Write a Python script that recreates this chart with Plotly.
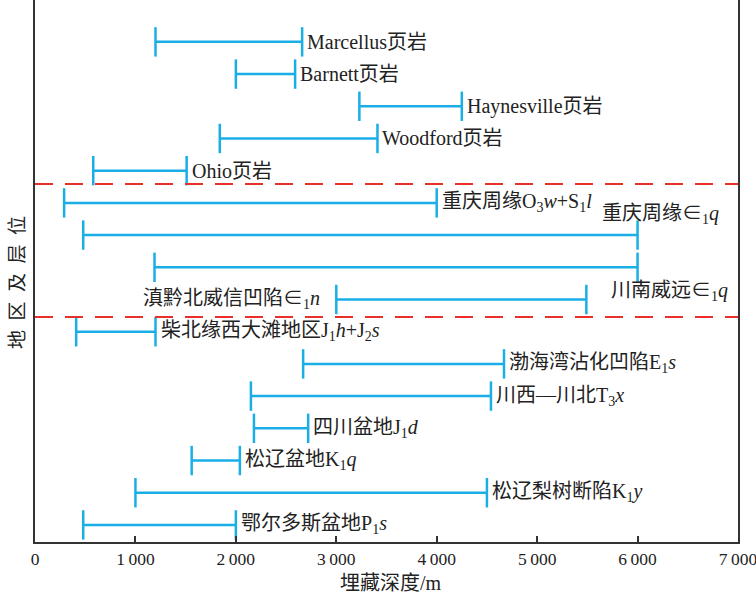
import plotly.graph_objects as go

# ---- data ----
labels = [
    "Marcellus页岩",
    "Barnett页岩",
    "Haynesville页岩",
    "Woodford页岩",
    "Ohio页岩",
    "重庆周缘O<sub>3</sub><i>w</i>+S<sub>1</sub><i>l</i>",
    "重庆周缘∈<sub>1</sub><i>q</i>",
    "川南威远∈<sub>1</sub><i>q</i>",
    "滇黔北威信凹陷∈<sub>1</sub><i>n</i>",
    "柴北缘西大滩地区J<sub>1</sub><i>h</i>+J<sub>2</sub><i>s</i>",
    "渤海湾沾化凹陷E<sub>1</sub><i>s</i>",
    "川西—川北T<sub>3</sub><i>x</i>",
    "四川盆地J<sub>1</sub><i>d</i>",
    "松辽盆地K<sub>1</sub><i>q</i>",
    "松辽梨树断陷K<sub>1</sub><i>y</i>",
    "鄂尔多斯盆地P<sub>1</sub><i>s</i>",
]
depth_min = [1200, 2000, 3230, 1840, 580, 290, 480, 1190, 3000, 410, 2670, 2150, 2180, 1560, 1000, 480]
depth_max = [2660, 2590, 4250, 3410, 1510, 4000, 6000, 6000, 5490, 1200, 4670, 4540, 2720, 2040, 4500, 2000]
tick_vals = [0, 1000, 2000, 3000, 4000, 5000, 6000, 7000]
tick_text = ["0", "1\u2009000", "2\u2009000", "3\u2009000", "4\u2009000",
             "5\u2009000", "6\u2009000", "7\u2009000"]
group_dividers = [4.41, 8.54]
x_title = "埋藏深度/m"
y_title = "地\u2002区\u2002及\u2002层\u2002位"

BLUE = "#1AAEE6"
RED = "#E8302A"
INK = "#222222"
FONT = "Liberation Serif, Noto Sans CJK SC"
y_idx = list(range(len(labels)))

fig = go.Figure()

# range lines
lx, ly = [], []
for i, (a, b) in enumerate(zip(depth_min, depth_max)):
    lx += [a, b, None]
    ly += [i, i, None]
fig.add_trace(go.Scatter(x=lx, y=ly, mode="lines", line=dict(color=BLUE, width=2.5),
                         hoverinfo="skip", showlegend=False))
# end caps
fig.add_trace(go.Scatter(x=depth_min + depth_max, y=y_idx + y_idx, mode="markers",
                         marker=dict(symbol="line-ns", size=21,
                                     line=dict(color=BLUE, width=2.5)),
                         hoverinfo="skip", showlegend=False))

# labels
special = {
    6: dict(x=6830, y=5.37, xanchor="right", xshift=0),
    7: dict(x=6920, y=7.76, xanchor="right", xshift=0),
    8: dict(x=depth_min[8], y=8, xanchor="right", xshift=-14),
}
for i, lab in enumerate(labels):
    if i in special:
        s = special[i]
        fig.add_annotation(x=s["x"], y=s["y"], text=lab, showarrow=False,
                           xanchor=s["xanchor"], xshift=s["xshift"], yanchor="middle",
                           font=dict(family=FONT, size=20, color=INK))
    else:
        fig.add_annotation(x=depth_max[i], y=i, text=lab, showarrow=False,
                           xanchor="left", xshift=3, yanchor="middle",
                           font=dict(family=FONT, size=20, color=INK))

for d in group_dividers:
    fig.add_shape(type="line", xref="paper", x0=0, x1=1, yref="y", y0=d, y1=d,
                  line=dict(color=RED, width=2, dash="18px,12px"))

# axis titles
fig.add_annotation(xref="paper", yref="paper", x=-0.024, y=0.478,
                   xanchor="center", yanchor="middle",
                   text=y_title, textangle=-90, showarrow=False,
                   font=dict(family=FONT, size=19, color=INK))
fig.add_annotation(xref="paper", yref="paper", x=0.506, y=-0.076,
                   xanchor="center", yanchor="middle",
                   text=x_title, showarrow=False,
                   font=dict(family=FONT, size=20, color=INK))

fig.update_xaxes(range=[0, 7000], tickvals=tick_vals, ticktext=tick_text,
                 ticks="inside", ticklen=6, tickwidth=2, tickcolor="#333",
                 showline=True, linecolor="#333", linewidth=2, showgrid=False,
                 zeroline=False, automargin=False, ticklabeloverflow="allow",
                 tickfont=dict(family=FONT, size=17.5, color=INK))
fig.update_yaxes(range=[15.53, -1.3], showticklabels=False, ticks="",
                 showline=True, mirror=True, linecolor="#333", linewidth=2,
                 showgrid=False, zeroline=False, automargin=False)

fig.update_layout(width=756, height=598,
                  margin=dict(l=35, r=18, t=0, b=56, autoexpand=False),
                  plot_bgcolor="white", paper_bgcolor="white")

fig.write_html("out.html",
               config={"displayModeBar": False},
               post_script="document.body.style.margin='0px';")
